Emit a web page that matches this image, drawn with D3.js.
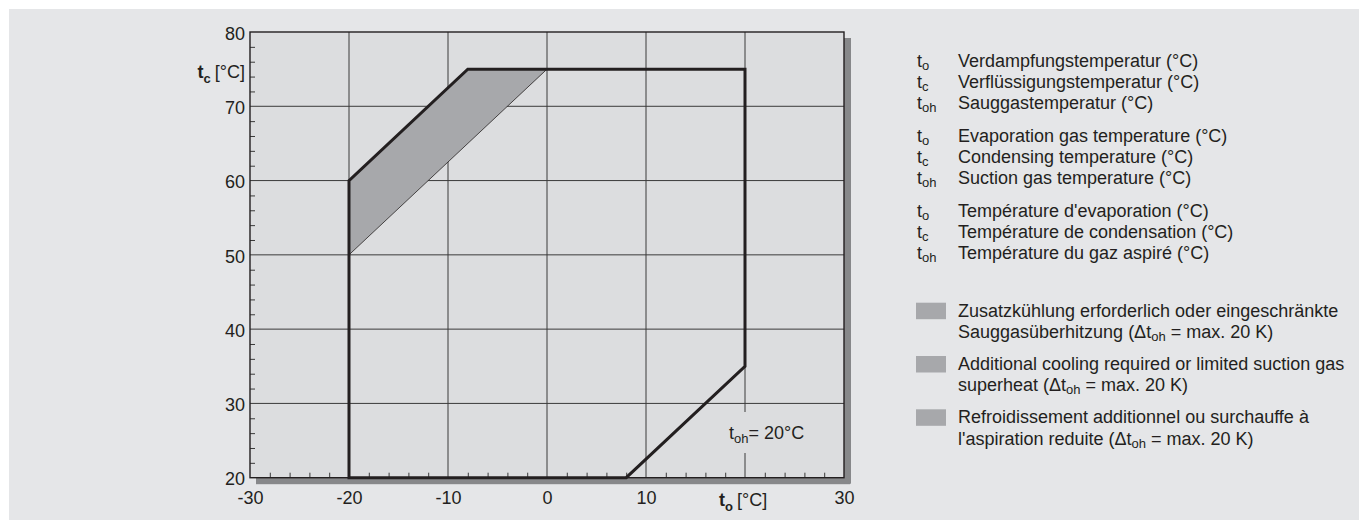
<!DOCTYPE html>
<html>
<head>
<meta charset="utf-8">
<script src="https://cdn.jsdelivr.net/npm/d3@7"></script>
<style>
  body { margin: 0; background: #fff; }
  text { font-family: "Liberation Sans", Arial, sans-serif; fill: #231f20; }
</style>
</head>
<body>
<svg id="chart" width="1359" height="520"></svg>
<script>
// values
var xTicks = [-30, -20, -10, 0, 10, 20, 30]
var xTickLabels = [-30, -20, -10, 0, 10, 30]   // 20 gives way to the axis title
var yTicks = [20, 30, 40, 50, 60, 70, 80]
// application envelope (t_o, t_c)
var envelope = [[-20, 20], [-20, 60], [-8, 75], [20, 75], [20, 35], [8, 20]]
// area with additional cooling
var shaded = [[-20, 60], [-8, 75], [0, 75], [-20, 50]]
var tohLabel = 20

var symbolLegend = [
  [["o", "Verdampfungstemperatur (°C)"], ["c", "Verflüssigungstemperatur (°C)"], ["oh", "Sauggastemperatur (°C)"]],
  [["o", "Evaporation gas temperature (°C)"], ["c", "Condensing temperature (°C)"], ["oh", "Suction gas temperature (°C)"]],
  [["o", "Température d'evaporation (°C)"], ["c", "Température de condensation (°C)"], ["oh", "Température du gaz aspiré (°C)"]]
]
var areaLegend = [
  ["Zusatzkühlung erforderlich oder eingeschränkte", "Sauggasüberhitzung (Δt|oh| = max. 20 K)"],
  ["Additional cooling required or limited suction gas", "superheat (Δt|oh| = max. 20 K)"],
  ["Refroidissement additionnel ou surchauffe à", "l'aspiration reduite (Δt|oh| = max. 20 K)"]
]

var svg = d3.select("#chart")
var dark = "#231f20"

// panel background
svg.append("rect").attr("x", 9).attr("y", 9).attr("width", 1350).attr("height", 511).attr("fill", "#e5e6e8")

var x = d3.scaleLinear().domain([-30, 30]).range([250, 844])
var y = d3.scaleLinear().domain([20, 80]).range([477.7, 32])

// shadow
svg.append("rect").attr("x", x(-30) + 6).attr("y", y(20)).attr("width", x(30) - x(-30)).attr("height", 6.5).attr("fill", "#87888a")
svg.append("rect").attr("x", x(30)).attr("y", y(80) + 6).attr("width", 7).attr("height", y(20) - y(80)).attr("fill", "#87888a")

// plot area
svg.append("rect").attr("x", x(-30)).attr("y", y(80)).attr("width", x(30) - x(-30)).attr("height", y(20) - y(80)).attr("fill", "#dcdddf")

// grid
var g = svg.append("g")
g.selectAll(".vgrid").data(xTicks.slice(1, -1)).join("line").attr("class", "vgrid")
  .attr("x1", d => x(d)).attr("x2", d => x(d)).attr("y1", y(80)).attr("y2", y(20))
  .attr("stroke", "#3a3a3a").attr("stroke-width", 1)
g.selectAll(".hgrid").data(yTicks.slice(1, -1)).join("line").attr("class", "hgrid")
  .attr("x1", x(-30)).attr("x2", x(30)).attr("y1", d => y(d)).attr("y2", d => y(d))
  .attr("stroke", "#3a3a3a").attr("stroke-width", 1)

// shaded area
var line = d3.line().x(d => x(d[0])).y(d => y(d[1]))
svg.append("path").attr("d", line(shaded) + "Z").attr("fill", "#a7a8ab").attr("stroke", dark).attr("stroke-width", 0.8)

// minor ticks
var minorX = d3.range(-30, 31, 2).filter(d => d % 10 != 0)
var minorY = d3.range(20, 81, 2).filter(d => d % 10 != 0)
svg.append("g").attr("transform", `translate(0, ${y(20)})`)
  .call(d3.axisBottom(x).tickValues(minorX).tickSize(-5).tickFormat(""))
  .call(a => a.select(".domain").remove())
  .selectAll("line").attr("stroke", "#3a3a3a")
svg.append("g").attr("transform", `translate(${x(-30)}, 0)`)
  .call(d3.axisLeft(y).tickValues(minorY).tickSize(-5).tickFormat(""))
  .call(a => a.select(".domain").remove())
  .selectAll("line").attr("stroke", "#3a3a3a")

// frame
svg.append("rect").attr("x", x(-30)).attr("y", y(80)).attr("width", x(30) - x(-30)).attr("height", y(20) - y(80))
  .attr("fill", "none").attr("stroke", dark).attr("stroke-width", 1.4)

// envelope
svg.append("path").attr("d", line(envelope) + "Z").attr("fill", "none").attr("stroke", dark)
  .attr("stroke-width", 3).attr("stroke-linejoin", "miter")

// tick labels
svg.append("g").attr("transform", `translate(0, ${y(20)})`)
  .call(d3.axisBottom(x).tickValues(xTickLabels).tickSize(0).tickPadding(14).tickFormat(d => String(d)))
  .call(a => a.select(".domain").remove())
  .selectAll("text").attr("font-size", 18).attr("fill", dark)
svg.append("g").attr("transform", `translate(${x(-30)}, 0)`)
  .call(d3.axisLeft(y).tickValues(yTicks).tickSize(0).tickPadding(5).tickFormat(d => String(d)))
  .call(a => a.select(".domain").remove())
  .selectAll("text").attr("font-size", 18).attr("fill", dark).attr("dy", "0.4em")
svg.selectAll(".tick text").style("font-family", "'Liberation Sans', Arial, sans-serif")

// axis titles
var xt = svg.append("text").attr("x", 719).attr("y", 506).attr("font-size", 18)
xt.append("tspan").attr("font-weight", "bold").text("t")
xt.append("tspan").attr("font-weight", "bold").attr("font-size", 13).attr("dy", 5).text("o")
xt.append("tspan").attr("dy", -5).attr("dx", 4).text("[°C]")

var yt = svg.append("text").attr("x", 245).attr("y", 78).attr("font-size", 18).attr("text-anchor", "end")
yt.append("tspan").attr("font-weight", "bold").text("t")
yt.append("tspan").attr("font-weight", "bold").attr("font-size", 13).attr("dy", 5).text("c")
yt.append("tspan").attr("dy", -5).attr("dx", 4).text("[°C]")

// t_oh label with background break in the grid line
svg.append("rect").attr("x", x(tohLabel) - 6).attr("y", 412).attr("width", 12).attr("height", 41).attr("fill", "#dcdddf")
var lt = svg.append("text").attr("x", 729).attr("y", 438.5).attr("font-size", 18)
lt.append("tspan").text("t")
lt.append("tspan").attr("font-size", 13).attr("dy", 4).text("oh")
lt.append("tspan").attr("dy", -4).text("= " + tohLabel + "°C")

// symbol legend
symbolLegend.forEach(function (group, gi) {
  group.forEach(function (item, li) {
    var by = 66.7 + gi * 75 + li * 21.3
    var t = svg.append("text").attr("x", 917).attr("y", by).attr("font-size", 18)
    t.append("tspan").text("t")
    t.append("tspan").attr("font-size", 13).attr("dy", 3).text(item[0])
    svg.append("text").attr("x", 958).attr("y", by).attr("font-size", 18).text(item[1])
  })
})

// area legend
areaLegend.forEach(function (entry, i) {
  var by = 316.7 + i * 53.3
  svg.append("rect").attr("x", 916).attr("y", by - 14).attr("width", 30).attr("height", 16.5).attr("fill", "#a7a8ab")
  entry.forEach(function (s, li) {
    var t = svg.append("text").attr("x", 958).attr("y", by + li * 21.3).attr("font-size", 18)
    var parts = s.split("|")
    t.append("tspan").text(parts[0])
    if (parts.length > 1) {
      t.append("tspan").attr("font-size", 13).attr("dy", 3).text(parts[1])
      t.append("tspan").attr("dy", -3).text(parts[2])
    }
  })
})
</script>
</body>
</html>
